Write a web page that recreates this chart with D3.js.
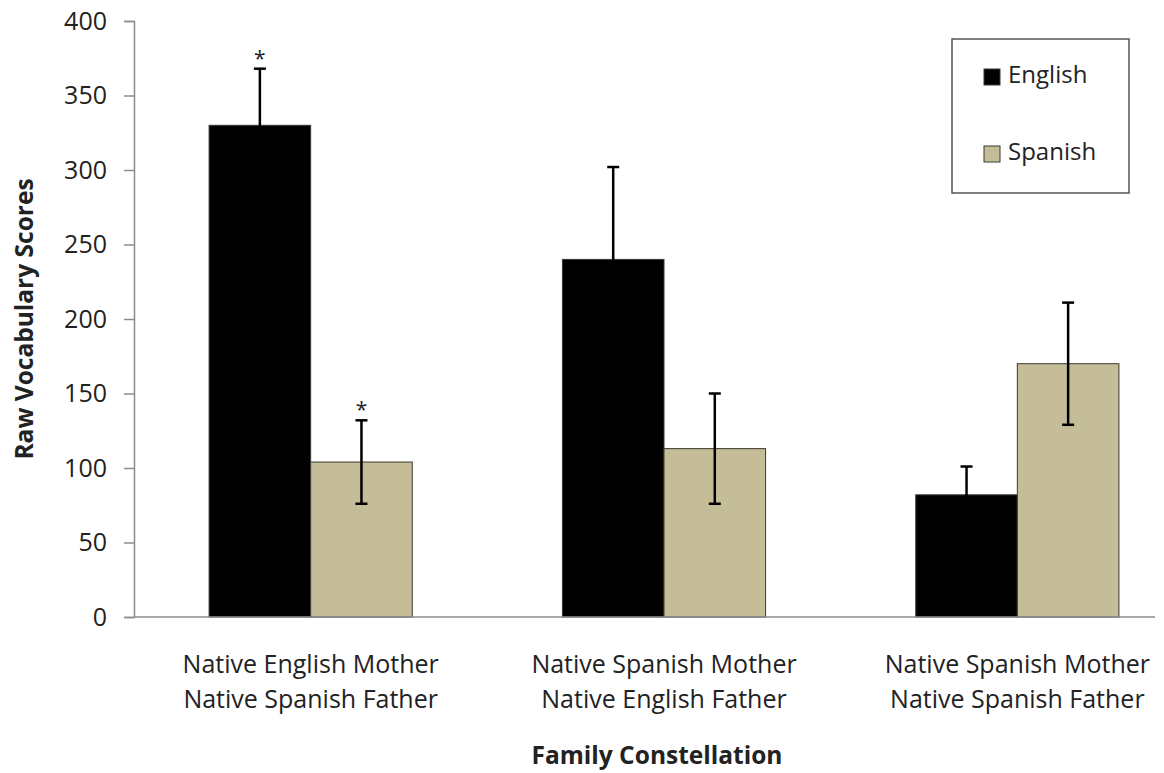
<!DOCTYPE html>
<html>
<head>
<meta charset="utf-8">
<script src="https://cdn.jsdelivr.net/npm/d3@7"></script>
<style>
  body { margin: 0; background: #fff; }
  text { font-family: "Open Sans", sans-serif; fill: #222; }
  .tick-label { font-size: 25px; }
  .cat-label { font-size: 25px; }
  .axis-title { font-size: 24.5px; font-weight: bold; }
  .legend-caption { font-size: 24px; }
</style>
</head>
<body>
<svg id="chart" width="1164" height="773"></svg>
<script>
// Data
const categories = [
  ["Native English Mother", "Native Spanish Father"],
  ["Native Spanish Mother", "Native English Father"],
  ["Native Spanish Mother", "Native Spanish Father"]
];
const seriesNames = ["English", "Spanish"];
const englishValues = [330, 240, 82];
const englishErrors = [38, 62, 19];
const spanishValues = [104, 113, 170];
const spanishErrors = [28, 37, 41];
const englishStars = [true, false, false];
const spanishStars = [true, false, false];
const yTicks = [0, 50, 100, 150, 200, 250, 300, 350, 400];

const colors = { English: "#000000", Spanish: "#c4bd97" };

const dimensions = {
  width: 1164,
  height: 773,
  margin: { top: 21, left: 134, bottom: 156, right: 9 }
};

const svg = d3.select("#chart");

// scales
const catKeys = categories.map((c, i) => i);
const x = d3.scaleBand()
  .domain(catKeys)
  .range([dimensions.margin.left, 1194])
  .paddingInner(0.425)
  .paddingOuter(0.2125);

const xSub = d3.scaleBand()
  .domain(seriesNames)
  .range([0, x.bandwidth()]);

const y = d3.scaleLinear()
  .domain([0, 400])
  .range([dimensions.height - dimensions.margin.bottom, dimensions.margin.top]);

const data = [];
catKeys.forEach(i => {
  data.push({ cat: i, series: "English", value: englishValues[i], err: englishErrors[i], star: englishStars[i] });
  data.push({ cat: i, series: "Spanish", value: spanishValues[i], err: spanishErrors[i], star: spanishStars[i] });
});

// y axis
const yAxis = svg.append("g")
  .attr("transform", `translate(${dimensions.margin.left},0)`)
  .call(d3.axisLeft(y).tickValues(yTicks).tickSize(10).tickPadding(17));
yAxis.select(".domain").attr("stroke", "#8c8c8c").attr("stroke-width", 1.5);
yAxis.selectAll(".tick line").attr("stroke", "#8c8c8c").attr("stroke-width", 1.5);
yAxis.selectAll(".tick text")
  .attr("class", "tick-label")
  .attr("font-family", null)
  .attr("font-size", null)
  .attr("fill", "#222");

// bars
const groups = svg.append("g")
  .selectAll("g")
  .data(data)
  .enter()
    .append("g");

groups
  .append("rect")
    .attr("x", d => x(d.cat) + xSub(d.series))
    .attr("y", d => y(d.value))
    .attr("width", xSub.bandwidth())
    .attr("height", d => y(0) - y(d.value))
    .attr("fill", d => colors[d.series])
    .attr("stroke", "#3a3a30")
    .attr("stroke-width", 1);

// error bars (black, so the lower half vanishes on the black bars)
const cx = d => x(d.cat) + xSub(d.series) + xSub.bandwidth() / 2;
groups
  .append("line")
    .attr("x1", cx).attr("x2", cx)
    .attr("y1", d => y(d.value + d.err))
    .attr("y2", d => y(d.value - d.err))
    .attr("stroke", "#000")
    .attr("stroke-width", 2.5);
groups
  .append("line")
    .attr("x1", d => cx(d) - 6).attr("x2", d => cx(d) + 6)
    .attr("y1", d => y(d.value + d.err))
    .attr("y2", d => y(d.value + d.err))
    .attr("stroke", "#000")
    .attr("stroke-width", 2.5);
groups
  .append("line")
    .attr("x1", d => cx(d) - 6).attr("x2", d => cx(d) + 6)
    .attr("y1", d => y(d.value - d.err))
    .attr("y2", d => y(d.value - d.err))
    .attr("stroke", "#000")
    .attr("stroke-width", 2.5);

// significance stars
groups.filter(d => d.star)
  .append("text")
    .attr("x", cx)
    .attr("y", d => y(d.value + d.err) - 3)
    .attr("text-anchor", "middle")
    .attr("font-size", "21px")
    .text("*");

// x axis line (cut at the image edge)
svg.append("line")
  .attr("x1", dimensions.margin.left)
  .attr("x2", dimensions.width - dimensions.margin.right)
  .attr("y1", y(0))
  .attr("y2", y(0))
  .attr("stroke", "#8c8c8c")
  .attr("stroke-width", 1.5);

// category labels
const catText = svg.append("g")
  .selectAll("text")
  .data(categories)
  .enter()
    .append("text")
    .attr("class", "cat-label")
    .attr("text-anchor", "middle")
    .attr("transform", (d, i) => `translate(${x(i) + x.bandwidth() / 2},673)`);
catText.selectAll("tspan")
  .data(d => d)
  .enter()
    .append("tspan")
    .attr("x", 0)
    .attr("y", (d, j) => j * 35)
    .text(d => d);

// axis titles
svg.append("text")
  .attr("class", "axis-title")
  .attr("text-anchor", "middle")
  .attr("x", 657)
  .attr("y", 764)
  .text("Family Constellation");

svg.append("text")
  .attr("class", "axis-title")
  .attr("text-anchor", "middle")
  .attr("transform", `translate(33,${(y(0) + y(400)) / 2}) rotate(-90)`)
  .text("Raw Vocabulary Scores");

// legend
const legend = svg.append("g");
legend.append("rect")
  .attr("x", 952).attr("y", 39)
  .attr("width", 177).attr("height", 154)
  .attr("fill", "#fff")
  .attr("stroke", "#555")
  .attr("stroke-width", 1.5);

seriesNames.forEach((name, i) => {
  const ly = 69 + i * 77;
  legend.append("rect")
    .attr("x", 984).attr("y", ly)
    .attr("width", 16).attr("height", 16)
    .attr("fill", colors[name])
    .attr("stroke", "#3a3a30")
    .attr("stroke-width", 1);
  legend.append("text")
    .attr("class", "legend-caption")
    .attr("x", 1008)
    .attr("y", ly + 8)
    .attr("dominant-baseline", "middle")
    .text(name);
});
</script>
</body>
</html>
